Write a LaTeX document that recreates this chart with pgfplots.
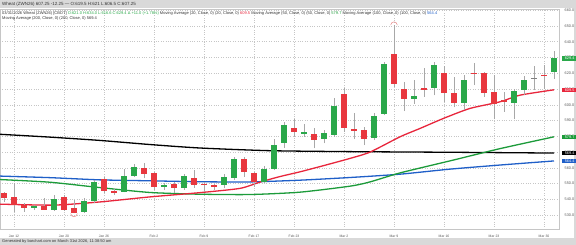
\documentclass[border=0pt]{standalone}
\usepackage{pgfplots}
\usepackage{pgfplotstable}
\pgfplotsset{compat=1.18}
\usepackage{fontspec}
\setmainfont{Liberation Sans}
\definecolor{cgreen}{HTML}{2AA84A}
\definecolor{cred}{HTML}{E8373E}
\definecolor{mared}{HTML}{E8263C}
\definecolor{magreen}{HTML}{1C9B3A}
\definecolor{mablue}{HTML}{1F5FC8}
\definecolor{wick}{HTML}{A8A8A8}
\definecolor{band}{HTML}{D9D9D9}
\definecolor{txt}{HTML}{333333}
\definecolor{arcc}{HTML}{E88888}

\pgfdeclareplotmark{archigh}{\pgfpathmoveto{\pgfqpoint{-3.3pt}{0pt}}\pgfpatharc{180}{0}{3.3pt}\pgfusepathqstroke}
\pgfdeclareplotmark{arclow}{\pgfpathmoveto{\pgfqpoint{-3.3pt}{0pt}}\pgfpatharc{180}{360}{3.3pt}\pgfusepathqstroke}

\newcommand\pbox[2]{{\setlength\fboxsep{0.8pt}\colorbox{#1}{\makebox[13pt][c]{\textcolor{white}{#2}}}}}

\pgfplotstableread{
i o h l c
3 534.7 536.4 533.2 535.7
5 533.2 542.7 532.7 540.2
8 532.1 540.6 531.4 538.9
9 538.9 552.2 538.0 550.8
12 544.8 559.0 544.4 554.9
13 554.9 562.2 554.3 560.7
16 548.5 550.1 545.9 549.1
18 547.3 555.8 546.0 554.8
22 549.0 555.8 547.0 554.3
23 553.9 567.0 552.6 565.9
26 550.8 561.1 550.1 559.6
27 559.6 578.0 558.6 574.8
28 575.9 589.2 572.7 587.5
30 581.8 588.0 579.7 582.8
32 578.2 584.0 575.5 582.2
33 580.7 604.0 579.7 599.2
37 578.8 594.5 577.6 593.0
38 594.0 627.2 593.4 625.6
41 603.6 615.6 600.8 605.7
43 610.4 627.2 606.0 625.0
46 601.2 619.2 597.0 615.6
51 601.2 610.3 590.7 608.7
52 609.3 618.2 606.0 616.0
55 621.0 634.0 616.6 629.4
}\up

\pgfplotstableread{
i o h l c
0 543.8 545.0 538.5 541.0
1 541.3 550.1 532.1 536.4
2 536.4 537.5 532.1 534.7
4 535.7 540.6 533.2 533.6
6 541.6 542.7 532.7 533.6
7 534.7 539.5 531.1 531.7
10 552.7 554.3 543.8 545.3
11 545.5 547.0 542.7 543.9
14 560.0 562.8 553.3 556.0
15 556.5 557.5 545.9 547.6
17 549.7 550.8 544.2 547.3
19 553.8 558.6 547.3 549.0
20 550.0 551.0 545.0 549.4
21 548.7 550.0 545.9 548.4
24 565.5 567.0 554.3 557.1
25 556.5 557.5 548.0 551.2
29 585.0 591.3 579.7 582.5
31 581.2 585.0 572.3 577.6
34 606.7 610.7 582.8 585.6
35 584.2 594.5 578.2 583.9
36 583.9 586.0 574.4 578.2
39 632.0 650.5 611.4 613.3
40 610.0 614.5 596.0 603.4
42 610.5 623.4 605.0 610.0
44 620.3 624.5 602.0 607.8
45 607.8 617.7 598.3 601.2
47 620.3 626.8 612.4 619.7
48 619.9 620.9 605.0 607.6
49 607.8 618.8 590.7 600.8
50 602.9 608.2 595.5 601.5
54 619.0 625.0 610.0 618.4
}\down

\pgfplotstableread{
i o h l c
53 616.7 624.5 609.3 616.7
}\flat

\newcommand\candles[2]{%
\addplot[draw=none, no marks, forget plot, error bars/.cd, y dir=plus, y explicit, error mark=none,
  error bar style={line width=0.9pt, draw=wick, solid}]
  table[x=i, y=l, y error plus expr={\thisrow{h}-\thisrow{l}}, y error minus expr={0}] {#1};
\addplot[draw=none, no marks, forget plot, error bars/.cd, y dir=both, y explicit, error mark=none,
  error bar style={line width=6.4pt, draw=#2, solid}]
  table[x=i, y expr={(\thisrow{o}+\thisrow{c})/2}, y error expr={max(abs(\thisrow{c}-\thisrow{o})/2,0.35)}] {#1};
}

\begin{document}
\begin{tikzpicture}[x=1pt,y=1pt]
\useasboundingbox (0,0) rectangle (576,245);
\fill[white] (0,0) rectangle (576,245);
\fill[band] (0,236.5) rectangle (576,245);
\fill[band] (0,0) rectangle (576,6.8);
\fill[band] (574,6.8) rectangle (576,236.5);
\begin{axis}[
  at={(0,10)}, anchor=south west, scale only axis,
  width=559pt, height=220pt,
  xmin=-0.4, xmax=55.5, ymin=521.1, ymax=660.6,
  axis line style={draw=gray!45, line width=0.5pt},
  yticklabel pos=right,
  ytick={530,540,...,660},
  /pgf/number format/fixed, /pgf/number format/fixed zerofill, /pgf/number format/precision=1,
  /pgf/number format/1000 sep={}, /pgf/number format/assume math mode=true,
  yticklabel style={font=\fontsize{3.8}{4}\selectfont, text=black!65, anchor=west, xshift=2.2pt},
  xtick={1,6,10,15,20,25,29,34,39,44,49,54},
  xticklabels={Jan 12, Jan 20, Jan 26, Feb 2, Feb 9, Feb 17, Feb 23, Mar 2, Mar 9, Mar 16, Mar 23, Mar 30},
  xticklabel style={font=\fontsize{3.4}{4}\selectfont, text=black!65, yshift=-2.2pt},
  major tick length=0pt, tick style={draw=none},
  grid=major, grid style={dotted, gray!45, line width=0.45pt},
  extra y ticks={629.4,609.5,579.7,569.4,564.4},
  extra y tick labels={{\pbox{cgreen}{629.4}},{\pbox{mared}{609.5}},{\pbox{magreen}{579.7}},{\pbox{black}{569.4}},{\pbox{mablue}{564.4}}},
  extra y tick style={grid=none, yticklabel style={xshift=-2.4pt}},
]
% moving averages
\addplot[black, line width=1.3pt, smooth, tension=0.4] coordinates {
(-0.4,581.3) (4.6,579.5) (9.6,577.4) (14.6,574.8) (19.6,572.6) (26.6,570.9) (34.6,570.3) (44.6,569.9) (55,569.4)};
\addplot[mablue, line width=1.3pt, smooth, tension=0.4] coordinates {
(-0.4,554.8) (4.6,553.8) (9.6,552.4) (14.6,551.8) (19.6,551.2) (24.6,551.1) (29.6,552.2) (34.6,553.9) (39.6,556.0) (44.6,559.2) (49.6,561.8) (55,564.4)};
\addplot[magreen, line width=1.3pt, smooth, tension=0.4] coordinates {
(-0.4,552.6) (4.6,550.9) (9.6,547.5) (14.6,544.4) (19.6,543.3) (24.6,543.1) (29.6,544.6) (34.6,548.4) (36.6,551.1) (39.6,556.8) (44.9,564.9) (49.6,572.2) (55,579.7)};
\addplot[mared, line width=1.3pt, smooth, tension=0.4] coordinates {
(-0.4,537.0) (5,536.4) (9.6,538.4) (14.6,541.6) (19.6,544.3) (23.6,547.0) (25.6,551.0) (27.6,554.5) (29.6,557.5) (32,561.5) (34.6,566.0) (36.6,570.0) (39.6,579.7) (41.6,585.0) (44,591.5) (46.6,597.7) (49.6,601.9) (51.6,606.1) (55,609.5)};
% candles
\candles{\up}{cgreen}
\candles{\down}{cred}
\candles{\flat}{gray}
\addplot[only marks, mark=archigh, mark options={draw=arcc, line width=0.5pt}] coordinates {(39,650.5)};
\addplot[only marks, mark=arclow, mark options={draw=arcc, line width=0.5pt}] coordinates {(7,531.1)};
\end{axis}
\node[anchor=base west, inner sep=0, font=\fontsize{4.5}{5}\selectfont, text=txt] at (2,239.6)
  {Wheat (ZWN26) 607.25 -12.25 — O:619.5 H:621 L:606.5 C:607.25};
\node[anchor=base west, inner sep=0, font=\fontsize{4}{5}\selectfont, text=txt] at (2,230.7)
  {03/31/2026 Wheat (ZWN26) [CBOT] \textcolor{cgreen}{O:621.0 H:634.0 L:616.6 C:629.4 Δ +11.0 (+1.78\%)} Moving Average (20, Close, 0) (20, Close, 0) \textcolor{mared}{609.5} Moving Average (50, Close, 0) (50, Close, 0) \textcolor{magreen}{579.7} Moving Average (100, Close, 0) (100, Close, 0) \textcolor{mablue}{564.4}};
\node[anchor=base west, inner sep=0, font=\fontsize{4}{5}\selectfont, text=txt] at (2,225.7)
  {Moving Average (200, Close, 0) (200, Close, 0) 569.4};
\node[anchor=base west, inner sep=0, font=\fontsize{4}{5}\selectfont, text=txt] at (2,2.2)
  {Generated by barchart.com on March 31st 2026, 11:38:50 am};
\end{tikzpicture}
\end{document}
